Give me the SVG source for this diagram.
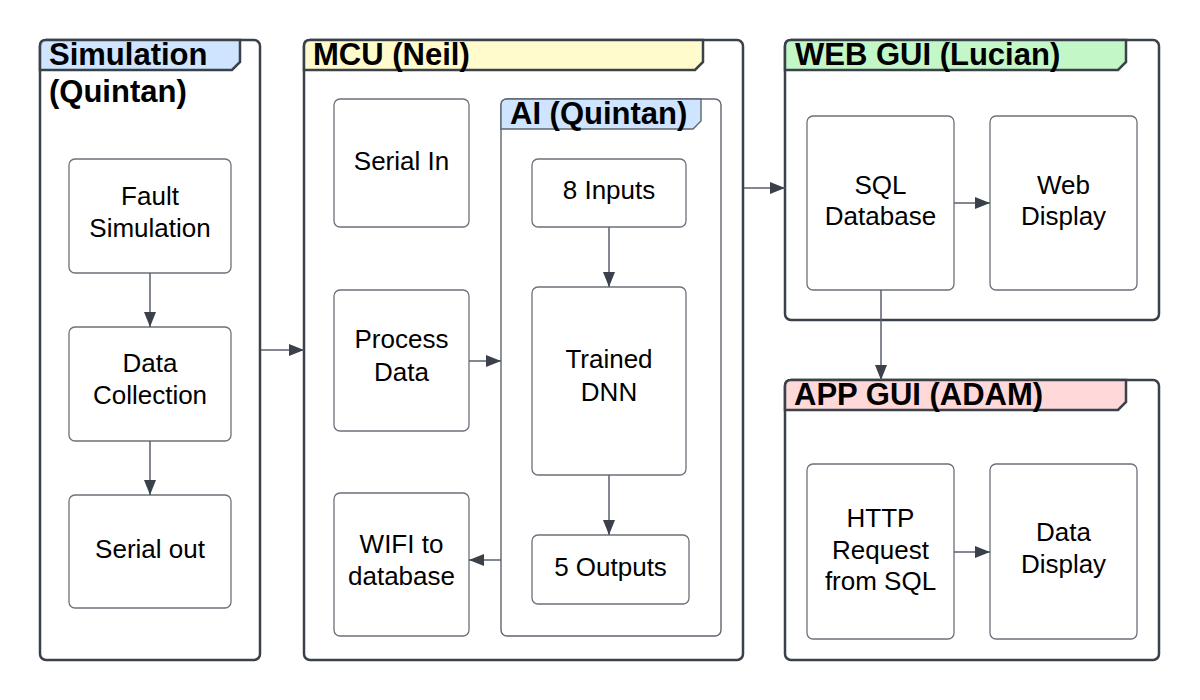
<svg xmlns="http://www.w3.org/2000/svg" width="1200" height="700" viewBox="0 0 1200 700">
<style>
.cont{fill:#ffffff;stroke:#3a414a;stroke-width:2.5}
.sub{fill:#ffffff;stroke:#5f6670;stroke-width:1.4}
.box{fill:#ffffff;stroke:#6b717b;stroke-width:1.3}
.tab{stroke:#3a414a;stroke-width:2.5}
.tabs{stroke:#5f6670;stroke-width:1.4}
.blue{fill:#cfe4ff}.yellow{fill:#fffbcc}.green{fill:#c3f7c8}.pink{fill:#ffd9d9}
.hdr{font-family:"Liberation Sans",Arial,sans-serif;font-weight:bold;font-size:31px;fill:#000}
.lbl{font-family:"Liberation Sans",Arial,sans-serif;font-size:26px;fill:#000;text-anchor:middle}
.conn{fill:none;stroke:#5a616b;stroke-width:1.5;marker-end:url(#arr)}
</style>
<defs>
<marker id="arr" markerUnits="userSpaceOnUse" markerWidth="16" markerHeight="12" refX="15" refY="6" orient="auto">
<path d="M0,0 L15,6 L0,12 Z" fill="#3a414a"/>
</marker>
</defs>
<rect width="1200" height="700" fill="#ffffff"/>

<g id="simulation">
<rect class="cont" x="40" y="40" width="220" height="620" rx="6"/>
<path class="tab blue" d="M40,70 V46 Q40,40 46,40 H240 V62 L232,70 Z"/>
<text class="hdr" x="49" y="65">Simulation</text>
<text class="hdr" x="49" y="102">(Quintan)</text>
</g>
<g id="fault-simulation">
<rect class="box" x="69" y="159" width="162" height="114" rx="6"/>
<text class="lbl" x="150" y="205">Fault</text>
<text class="lbl" x="150" y="237">Simulation</text>
</g>
<g id="data-collection">
<rect class="box" x="69" y="327" width="162" height="114" rx="6"/>
<text class="lbl" x="150" y="372">Data</text>
<text class="lbl" x="150" y="404">Collection</text>
</g>
<g id="serial-out">
<rect class="box" x="69" y="495" width="162" height="113" rx="6"/>
<text class="lbl" x="150" y="558">Serial out</text>
</g>

<g id="mcu">
<rect class="cont" x="304" y="40" width="439" height="620" rx="6"/>
<path class="tab yellow" d="M304,70 V46 Q304,40 310,40 H703 V62 L695,70 Z"/>
<text class="hdr" x="313" y="65">MCU (Neil)</text>
</g>
<g id="serial-in">
<rect class="box" x="334" y="99" width="135" height="128" rx="6"/>
<text class="lbl" x="401.5" y="170">Serial In</text>
</g>
<g id="process-data">
<rect class="box" x="334" y="290" width="135" height="141" rx="6"/>
<text class="lbl" x="401.5" y="348">Process</text>
<text class="lbl" x="401.5" y="381">Data</text>
</g>
<g id="wifi">
<rect class="box" x="334" y="493" width="135" height="143" rx="6"/>
<text class="lbl" x="401.5" y="553">WIFI to</text>
<text class="lbl" x="401.5" y="585">database</text>
</g>

<g id="ai">
<rect class="sub" x="501" y="99" width="220" height="537" rx="6"/>
<path class="tabs blue" d="M501,129 V105 Q501,99 507,99 H701 V121 L693,129 Z"/>
<text class="hdr" x="510" y="124">AI (Quintan)</text>
</g>
<g id="inputs">
<rect class="box" x="532" y="159" width="154" height="68" rx="6"/>
<text class="lbl" x="609" y="199">8 Inputs</text>
</g>
<g id="dnn">
<rect class="box" x="532" y="287" width="154" height="188" rx="6"/>
<text class="lbl" x="609" y="368">Trained</text>
<text class="lbl" x="609" y="401">DNN</text>
</g>
<g id="outputs">
<rect class="box" x="532" y="535" width="157" height="69" rx="6"/>
<text class="lbl" x="610.5" y="576">5 Outputs</text>
</g>

<g id="web-gui">
<rect class="cont" x="785" y="40" width="374" height="280" rx="6"/>
<path class="tab green" d="M785,70 V46 Q785,40 791,40 H1126 V62 L1118,70 Z"/>
<text class="hdr" x="795" y="65">WEB GUI (Lucian)</text>
</g>
<g id="sql">
<rect class="box" x="807" y="116" width="147" height="174" rx="6"/>
<text class="lbl" x="880.5" y="194">SQL</text>
<text class="lbl" x="880.5" y="225">Database</text>
</g>
<g id="web-display">
<rect class="box" x="990" y="116" width="147" height="174" rx="6"/>
<text class="lbl" x="1063.5" y="194">Web</text>
<text class="lbl" x="1063.5" y="225">Display</text>
</g>

<g id="app-gui">
<rect class="cont" x="785" y="380" width="374" height="280" rx="6"/>
<path class="tab pink" d="M785,410 V386 Q785,380 791,380 H1126 V402 L1118,410 Z"/>
<text class="hdr" x="794" y="405">APP GUI (ADAM)</text>
</g>
<g id="http">
<rect class="box" x="807" y="464" width="147" height="175" rx="6"/>
<text class="lbl" x="880.5" y="527">HTTP</text>
<text class="lbl" x="880.5" y="559">Request</text>
<text class="lbl" x="880.5" y="590">from SQL</text>
</g>
<g id="data-display">
<rect class="box" x="990" y="464" width="147" height="175" rx="6"/>
<text class="lbl" x="1063.5" y="541">Data</text>
<text class="lbl" x="1063.5" y="573">Display</text>
</g>

<g id="connectors">
<path class="conn" d="M150,273 V327"/>
<path class="conn" d="M150,441 V495"/>
<path class="conn" d="M261,350 H304"/>
<path class="conn" d="M469,361 H501"/>
<path class="conn" d="M609,227 V287"/>
<path class="conn" d="M609,475 V535"/>
<path class="conn" d="M501,560 H469"/>
<path class="conn" d="M744,188 H785"/>
<path class="conn" d="M954,203 H990"/>
<path class="conn" d="M881,290 V380"/>
<path class="conn" d="M954,552 H990"/>
</g>
</svg>
